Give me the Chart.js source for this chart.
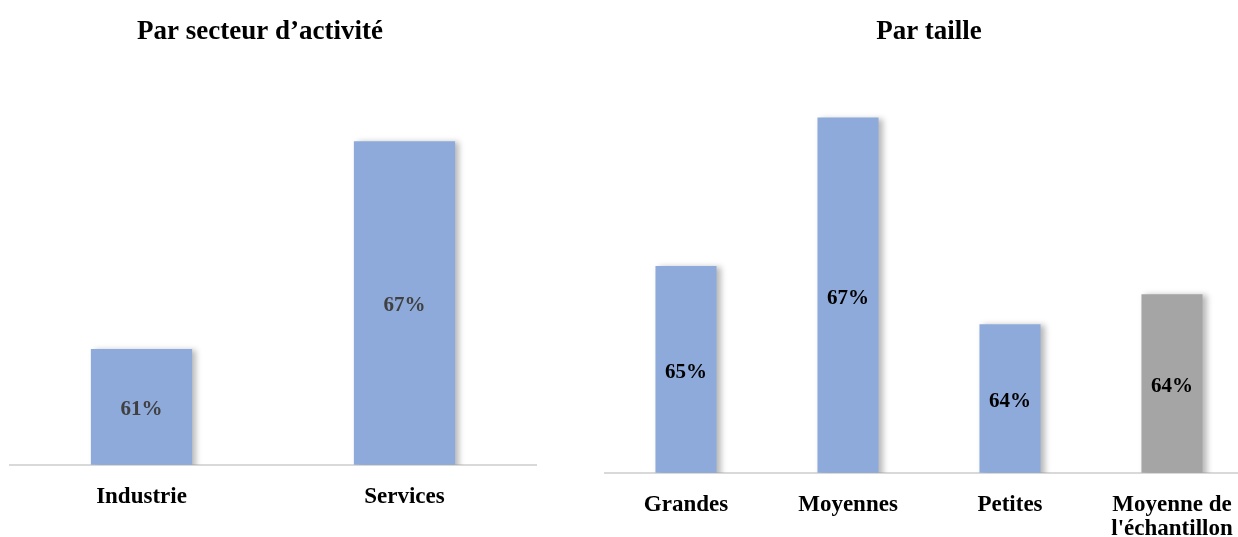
<!DOCTYPE html>
<html>
<head>
<meta charset="utf-8">
<script src="https://cdn.jsdelivr.net/npm/chart.js@4.4.0/dist/chart.umd.min.js"></script>
<style>
  html, body { margin: 0; padding: 0; background: #fff; overflow: hidden; }
  body { width: 1238px; height: 537px; position: relative; }
  #left { position: absolute; left: -30px; top: 0; }
  #right { position: absolute; left: 600px; top: 0; }
</style>
</head>
<body>
<div id="left"><canvas id="secteurChart" width="575" height="537"></canvas></div>
<div id="right"><canvas id="tailleChart" width="665" height="562"></canvas></div>
<script>
// data
const secteurLabels = ['Industrie', 'Services'];
const secteurValues = [61.0, 67.0];
const secteurColors = ['#8eaadb', '#8eaadb'];

const tailleLabels = ['Grandes', 'Moyennes', 'Petites', ['Moyenne de', "l'échantillon"]];
const tailleValues = [64.62, 67.1, 63.65, 64.15];
const tailleColors = ['#8eaadb', '#8eaadb', '#8eaadb', '#a5a5a5'];

const secteurRange = [57.65, 68.67];
const tailleRange = [61.17, 67.67];

const serif = "'Liberation Serif', 'Times New Roman', serif";

// the % inside each bar, centred between the top and the axis line
function makeLabelPlugin(color) {
  return {
    id: 'barLabels',
    afterDatasetsDraw(chart) {
      const ctx = chart.ctx;
      const meta = chart.getDatasetMeta(0);
      const values = chart.data.datasets[0].data;
      const bottom = chart.chartArea.bottom;
      ctx.save();
      ctx.font = 'bold 21px ' + serif;
      ctx.fillStyle = color;
      ctx.textAlign = 'center';
      ctx.textBaseline = 'middle';
      meta.data.forEach((bar, i) => {
        const base = Math.min(bar.base, bottom);
        ctx.fillText(Math.round(values[i]) + '%', bar.x, (bar.y + base) / 2 + 3);
      });
      ctx.restore();
    }
  };
}

// soft shadow on the right of the bars
const barShadow = {
  id: 'barShadow',
  beforeDatasetDraw(chart) {
    const ctx = chart.ctx;
    ctx.save();
    ctx.shadowColor = 'rgba(0, 0, 0, 0.28)';
    ctx.shadowBlur = 6;
    ctx.shadowOffsetX = 4;
    ctx.shadowOffsetY = 1;
  },
  afterDatasetDraw(chart) {
    chart.ctx.restore();
  }
};

function makeChart(id, title, labels, values, colors, range, barPct, pad, yWidth, labelColor) {
  return new Chart(document.getElementById(id), {
    type: 'bar',
    data: {
      labels: labels,
      datasets: [{
        data: values,
        backgroundColor: colors,
        borderWidth: 0,
        barPercentage: barPct,
        categoryPercentage: 1
      }]
    },
    options: {
      responsive: false,
      animation: false,
      layout: { padding: pad },
      plugins: {
        legend: { display: false },
        tooltip: { enabled: false },
        title: {
          display: true,
          text: title,
          color: '#000',
          font: { family: serif, size: 27, weight: 'bold', lineHeight: 1.2 },
          padding: { top: 16, bottom: 35 }
        }
      },
      scales: {
        x: {
          grid: { display: false, drawTicks: false },
          border: { display: true, color: '#d9d9d9', width: 2 },
          ticks: {
            color: '#000',
            padding: 20,
            font: { family: serif, size: 23, weight: 'bold', lineHeight: 1.05 },
            maxRotation: 0,
            autoSkip: false
          }
        },
        y: {
          display: yWidth > 0,
          min: range[0],
          max: range[1],
          grid: { display: false, drawTicks: false },
          border: { display: false },
          ticks: { display: false },
          afterFit(scale) { scale.width = yWidth; }
        }
      }
    },
    plugins: [barShadow, makeLabelPlugin(labelColor)]
  });
}

makeChart('secteurChart', 'Par secteur d\u2019activité', secteurLabels, secteurValues, secteurColors,
  secteurRange, 0.385, { left: 14, right: 9, top: 0, bottom: 8 }, 26, '#404040');
makeChart('tailleChart', 'Par taille', tailleLabels, tailleValues, tailleColors,
  tailleRange, 0.377, { left: 5, right: 12, top: 0, bottom: 1 }, 0, '#000');
</script>
</body>
</html>
